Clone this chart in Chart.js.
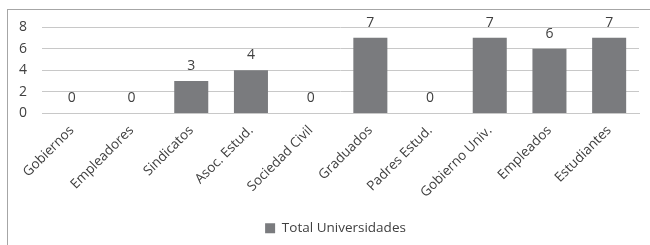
<!DOCTYPE html>
<html>
<head>
<meta charset="utf-8">
<script src="https://cdn.jsdelivr.net/npm/chart.js@4"></script>
<style>
  html, body { margin: 0; padding: 0; background: #fff; }
  #wrap { position: relative; width: 650px; height: 245px; overflow: hidden; }
  #frame { position: absolute; left: 7px; top: 9px; width: 700px; height: 300px; border: 1px solid #a6a6a6; }
  #grafico { position: absolute; left: 0; top: 0; }
</style>
</head>
<body>
<div id="wrap">
  <div id="frame"></div>
  <canvas id="grafico" width="650" height="245"></canvas>
</div>
<script>
const categorias = ['Gobiernos', 'Empleadores', 'Sindicatos', 'Asoc. Estud.', 'Sociedad Civil', 'Graduados', 'Padres Estud.', 'Gobierno Univ.', 'Empleados', 'Estudiantes']
const totalUniversidades = [0, 0, 3, 4, 0, 7, 0, 7, 6, 7]
const ticksY = [0, 2, 4, 6, 8]

const fonte = "'Open Sans', sans-serif"

// escreve o valor em cima de cada barra
const rotulos = {
  id: 'rotulos',
  afterDatasetsDraw(chart) {
    const ctx = chart.ctx
    const meta = chart.getDatasetMeta(0)
    ctx.save()
    ctx.font = '14px ' + fonte
    ctx.fillStyle = '#404040'
    ctx.textAlign = 'center'
    ctx.textBaseline = 'middle'
    meta.data.forEach(function (barra, i) {
      ctx.fillText(totalUniversidades[i], barra.x, barra.y - 15)
    })
    ctx.restore()
  }
}

// a legenda do original fica um pouco a direita do centro
const moveLegenda = {
  id: 'moveLegenda',
  afterLayout(chart) {
    chart.legend.left += 16
    chart.legend.right += 16
  }
}

new Chart(document.getElementById('grafico'), {
  type: 'bar',
  data: {
    labels: categorias,
    datasets: [{
      label: 'Total Universidades',
      data: totalUniversidades,
      backgroundColor: '#7a7b7e',
      borderColor: '#7a7b7e',
      borderWidth: 0,
      barPercentage: 0.57,
      categoryPercentage: 1
    }]
  },
  options: {
    responsive: false,
    animation: false,
    layout: { padding: { top: 27, right: 11, left: 0, bottom: 0 } },
    scales: {
      y: {
        min: 0,
        max: 8,
        afterBuildTicks: function (scale) {
          scale.ticks = ticksY.map(v => ({ value: v }))
        },
        afterFit: function (scale) { scale.width = 42 },
        border: { display: false },
        grid: { color: '#c8c8c8', drawTicks: false },
        ticks: { padding: 15, color: '#404040', font: { family: fonte, size: 14 } }
      },
      x: {
        afterFit: function (scale) { scale.height = 98 },
        border: { color: '#c8c8c8' },
        grid: { display: false },
        ticks: {
          minRotation: 45,
          maxRotation: 45,
          padding: 1,
          color: '#404040',
          font: { family: fonte, size: 13.5 }
        }
      }
    },
    plugins: {
      legend: {
        position: 'bottom',
        labels: {
          boxWidth: 10,
          boxHeight: 10,
          padding: 10,
          color: '#404040',
          font: { family: fonte, size: 13.5 }
        }
      },
      tooltip: { enabled: false }
    }
  },
  plugins: [rotulos, moveLegenda]
})
</script>
</body>
</html>
